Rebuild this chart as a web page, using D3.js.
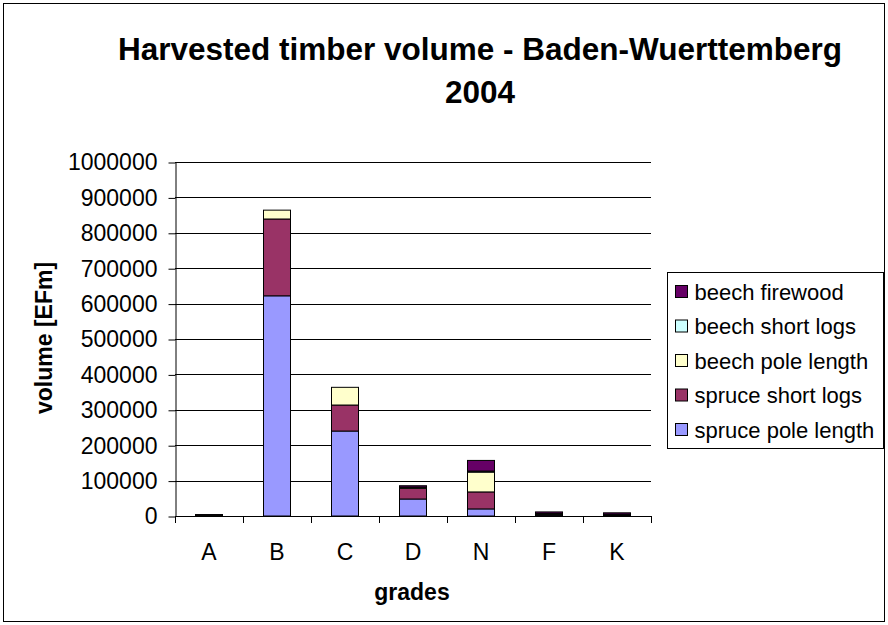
<!DOCTYPE html>
<html>
<head>
<meta charset="utf-8">
<script src="https://cdn.jsdelivr.net/npm/d3@7"></script>
<style>
  body { margin: 0; background: #fff; }
  svg { display: block; font-family: 'Liberation Sans', Arial, sans-serif; }
</style>
</head>
<body>
<div id="chart"></div>
<script>
// grades on the x axis
const grades = ['A', 'B', 'C', 'D', 'N', 'F', 'K'];
// series, bottom to top of each stack
const seriesNames = ['spruce pole length', 'spruce short logs', 'beech pole length', 'beech short logs', 'beech firewood'];
const sprucePoleLength = [1500, 622000, 240000, 48000, 20000, 3000, 1000];
const spruceShortLogs  = [1000, 217000, 73500, 30000, 48000, 2500, 2000];
const beechPoleLength  = [500, 25000, 50000, 3000, 56000, 1500, 1500];
const beechShortLogs   = [0, 0, 0, 500, 3000, 500, 500];
const beechFirewood    = [1000, 0, 0, 4000, 30000, 4000, 4000];
const yTicks = d3.range(0, 1000001, 100000);

const colors = ['#9999FF', '#993366', '#FFFFCC', '#CCFFFF', '#660066'];
const W = 888, H = 625;
const plot = { left: 175, right: 651, top: 162, bottom: 516 };

const seriesValues = [sprucePoleLength, spruceShortLogs, beechPoleLength, beechShortLogs, beechFirewood];
const rows = grades.map((g, i) => {
  const r = { grade: g };
  seriesNames.forEach((s, k) => { r[s] = seriesValues[k][i]; });
  return r;
});
const stacked = d3.stack().keys(seriesNames)(rows);

const svg = d3.select('#chart').append('svg')
  .attr('width', W).attr('height', H);

svg.append('rect')
  .attr('x', 3.5).attr('y', 3.5).attr('width', W - 7).attr('height', H - 7)
  .attr('fill', '#fff').attr('stroke', '#000').attr('stroke-width', 1);

const x = d3.scaleBand().domain(grades)
  .range([plot.left, plot.right]).paddingInner(0.6).paddingOuter(0.3);
const y = d3.scaleLinear().domain([0, 1000000]).range([plot.bottom, plot.top]);
const color = d3.scaleOrdinal().domain(seriesNames).range(colors);

// gridlines
svg.append('g').selectAll('line')
  .data(yTicks.filter(t => t > 0))
  .join('line')
  .attr('x1', plot.left).attr('x2', plot.right)
  .attr('y1', d => Math.round(y(d)) + 0.5).attr('y2', d => Math.round(y(d)) + 0.5)
  .attr('stroke', '#000').attr('stroke-width', 1);

// bars
svg.append('g').selectAll('g')
  .data(stacked)
  .join('g')
  .attr('fill', d => color(d.key))
  .selectAll('rect')
  .data(d => d)
  .join('rect')
  .attr('x', d => Math.round(x(d.data.grade)) + 0.5)
  .attr('width', Math.round(x.bandwidth()))
  .attr('y', d => y(d[1]))
  .attr('height', d => y(d[0]) - y(d[1]))
  .attr('stroke', '#000').attr('stroke-width', 1)
  .style('display', d => d[1] - d[0] > 0 ? null : 'none');

// y axis
const yAxis = svg.append('g')
  .attr('transform', `translate(${plot.left + 0.5},0.5)`)
  .call(d3.axisLeft(y).tickValues(yTicks).tickFormat(d3.format('d')).tickSize(7).tickSizeOuter(0).tickPadding(11));
yAxis.attr('font-family', null).attr('font-size', null);
yAxis.selectAll('text').attr('font-size', 23).attr('fill', '#000');
yAxis.selectAll('line, path').attr('stroke', '#000');

// x axis
const step = x.step();
const bounds = grades.map(g => x(g) + x.bandwidth() / 2 - step / 2).concat([plot.right]);
const xAxis = svg.append('g');
xAxis.append('line')
  .attr('x1', plot.left).attr('x2', plot.right)
  .attr('y1', plot.bottom + 0.5).attr('y2', plot.bottom + 0.5)
  .attr('stroke', '#000');
xAxis.selectAll('line.tick')
  .data(bounds)
  .join('line').attr('class', 'tick')
  .attr('x1', d => Math.round(d) + 0.5).attr('x2', d => Math.round(d) + 0.5)
  .attr('y1', plot.bottom).attr('y2', plot.bottom + 7)
  .attr('stroke', '#000');
xAxis.selectAll('text')
  .data(grades)
  .join('text')
  .attr('x', d => x(d) + x.bandwidth() / 2)
  .attr('y', 560)
  .attr('text-anchor', 'middle')
  .attr('font-size', 23)
  .text(d => d);

// titles
const title = svg.append('text')
  .attr('text-anchor', 'middle').attr('font-size', 31.5).attr('font-weight', 'bold');
title.append('tspan').attr('x', 480).attr('y', 60).text('Harvested timber volume - Baden-Wuerttemberg');
title.append('tspan').attr('x', 480).attr('y', 103).text('2004');

svg.append('text')
  .attr('x', 412).attr('y', 600)
  .attr('text-anchor', 'middle').attr('font-size', 23).attr('font-weight', 'bold')
  .text('grades');

svg.append('text')
  .attr('transform', 'translate(52,338) rotate(-90)')
  .attr('text-anchor', 'middle').attr('font-size', 23).attr('font-weight', 'bold')
  .text('volume [EFm]');

// legend
const legend = svg.append('g').attr('transform', 'translate(667.5,272.5)');
legend.append('rect')
  .attr('width', 216).attr('height', 176)
  .attr('fill', '#fff').attr('stroke', '#000');
seriesNames.slice().reverse().forEach((name, i) => {
  const g = legend.append('g').attr('transform', `translate(0,${20 + i * 34.5})`);
  g.append('rect')
    .attr('x', 8).attr('y', -7).attr('width', 12).attr('height', 12)
    .attr('fill', color(name)).attr('stroke', '#000');
  g.append('text')
    .attr('x', 27).attr('y', 7)
    .attr('font-size', 22)
    .text(name);
});
</script>
</body>
</html>
